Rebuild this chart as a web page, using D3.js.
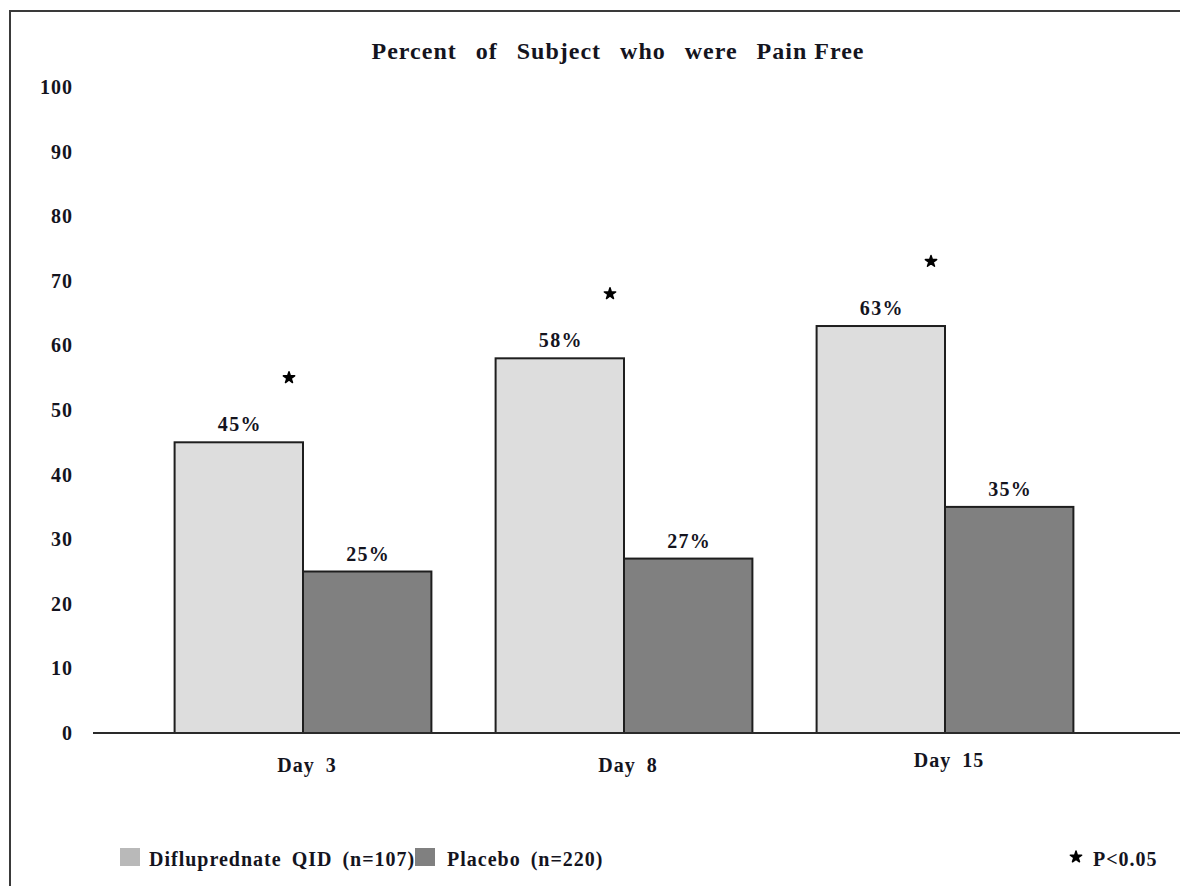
<!DOCTYPE html>
<html>
<head>
<meta charset="utf-8">
<script src="https://cdn.jsdelivr.net/npm/d3@7"></script>
<style>
  html, body { margin: 0; padding: 0; background: #fff; }
  svg { display: block; }
  text { font-family: "Liberation Serif", "Times New Roman", serif; font-weight: bold; fill: #14141e; }
</style>
</head>
<body>
<svg id="chart" width="1180" height="886"></svg>
<script>
const categories = ["Day 3", "Day 8", "Day 15"];
const seriesNames = ["Difluprednate QID (n=107)", "Placebo (n=220)"];
const difluprednate = [45, 58, 63];
const placebo = [25, 27, 35];
const significance = [55, 68, 73];
const yTicks = [0, 10, 20, 30, 40, 50, 60, 70, 80, 90, 100];
const titleParts = ["Percent of Subject who were ", "Pain Free"];
const pLabel = "P<0.05";

const colors = ["#dddddd", "#808080"];
const legendColors = ["#b9b9b9", "#808080"];

const svg = d3.select("#chart");

// outer frame (extends past right and bottom edges)
svg.append("rect").attr("x", 10).attr("y", 11).attr("width", 1200).attr("height", 900)
  .attr("fill", "none").attr("stroke", "#3a3a3a").attr("stroke-width", 2);

const x0 = d3.scaleBand().domain(categories).range([142.5, 1105.5]).paddingInner(0.2).paddingOuter(0.1);
const x1 = d3.scaleBand().domain(seriesNames).range([0, x0.bandwidth()]);
const y = d3.scaleLinear().domain([0, 100]).range([733, 87]);

const data = categories.map((c, i) => ({ cat: c, vals: [difluprednate[i], placebo[i]], sig: significance[i] }));

// title
const t = svg.append("text").attr("x", 618).attr("y", 59).attr("text-anchor", "middle")
  .style("font-size", "24px").style("letter-spacing", "1px");
t.append("tspan").style("word-spacing", "12px").text(titleParts[0]);
t.append("tspan").style("word-spacing", "0px").text(titleParts[1]);

// y tick labels (no axis line)
const yAxis = d3.axisLeft(y).tickValues(yTicks).tickSize(0).tickPadding(0);
const yg = svg.append("g").attr("transform", "translate(73,0)").call(yAxis);
yg.select(".domain").remove();
yg.selectAll("text").style("font-size", "20px").attr("fill", "#14141e")
  .style("font-family", "Liberation Serif, serif").style("font-weight", "bold")
  .style("letter-spacing", "1px");

// bars
const groups = svg.append("g").selectAll("g").data(data).join("g")
  .attr("transform", d => `translate(${x0(d.cat)},0)`);

groups.selectAll("rect").data(d => d.vals.map((v, j) => ({ v, j, name: seriesNames[j] }))).join("rect")
  .attr("x", d => x1(d.name))
  .attr("y", d => y(d.v))
  .attr("width", x1.bandwidth())
  .attr("height", d => y(0) - y(d.v))
  .attr("fill", d => colors[d.j])
  .attr("stroke", "#1e1e1e").attr("stroke-width", 2);

// value labels
groups.selectAll("text.val").data(d => d.vals.map((v, j) => ({ v, j, name: seriesNames[j] }))).join("text")
  .attr("class", "val")
  .attr("x", d => x1(d.name) + x1.bandwidth() / 2 + 1)
  .attr("y", d => y(d.v) - 11)
  .attr("text-anchor", "middle")
  .style("font-size", "20px").style("letter-spacing", "1.3px")
  .text(d => d.v + "%");

// significance stars
const star = d3.symbol().type(d3.symbolStar).size(40);
groups.append("path")
  .attr("d", star)
  .attr("transform", d => `translate(${x1(seriesNames[1]) - 14},${y(d.sig)})`)
  .attr("fill", "#000").attr("stroke", "#000").attr("stroke-width", 1.5).attr("stroke-linejoin", "round");

// x axis
const xAxis = d3.axisBottom(x0).tickSize(0).tickPadding(0);
const xg = svg.append("g").attr("transform", `translate(0,${y(0)})`).call(xAxis);
xg.select(".domain").remove();
xg.selectAll("text").style("font-size", "20px").attr("fill", "#14141e")
  .style("font-family", "Liberation Serif, serif").style("font-weight", "bold")
  .style("letter-spacing", "1px").style("word-spacing", "5px")
  .attr("dx", 4)
  .attr("dy", (d, i) => i === 2 ? 34 : 39);
svg.append("line").attr("x1", 93).attr("x2", 1180).attr("y1", y(0)).attr("y2", y(0))
  .attr("stroke", "#2a2a2a").attr("stroke-width", 2);

// legend
const legendX = [120, 415];
const legendTextX = [149, 447];
seriesNames.forEach((name, i) => {
  svg.append("rect").attr("x", legendX[i]).attr("y", 848).attr("width", 20).attr("height", 18)
    .attr("fill", legendColors[i]);
  svg.append("text").attr("x", legendTextX[i]).attr("y", 866)
    .style("font-size", "20px").style("letter-spacing", "1px").style("word-spacing", "4px").text(name);
});

svg.append("path").attr("d", star).attr("transform", "translate(1076,857)")
  .attr("fill", "#000").attr("stroke", "#000").attr("stroke-width", 1.5).attr("stroke-linejoin", "round");
svg.append("text").attr("x", 1093).attr("y", 866).style("font-size", "20px").style("letter-spacing", "1px").text(pLabel);
</script>
</body>
</html>
